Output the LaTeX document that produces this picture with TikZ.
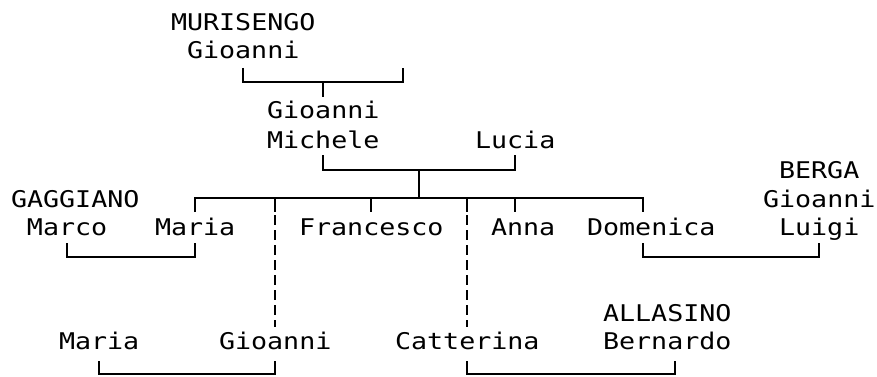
\documentclass[tikz,border=0pt]{standalone}
\usepackage{fontspec}
\setmonofont[FakeStretch=1.16]{DejaVu Sans Mono}
\usetikzlibrary{calc}
\tikzset{
  person/.style={inner sep=0pt, outer sep=0pt, anchor=base west,
    font=\ttfamily\fontsize{23}{28.8}\selectfont, text=black},
  famline/.style={line width=1.8pt, draw=black, line cap=butt, line join=miter},
  hiddenline/.style={famline, dash pattern=on 10pt off 5pt, dash phase=12pt},
}
\begin{document}
\begin{tikzpicture}[x=1pt, y=-1pt]
\useasboundingbox (0,0) rectangle (877,377);

% generation 1
\node[person] (mur)  at (171,31)  {MURISENGO};
\node[person] (gio1) at (187,59)  {Gioanni};
% generation 2
\node[person] (gio2) at (267,118) {Gioanni};
\node[person] (mic)  at (267,148) {Michele};
\node[person] (luc)  at (475,148) {Lucia};
% generation 3
\node[person] (gag)  at (11,207)  {GAGGIANO};
\node[person] (mar)  at (27,235)  {Marco};
\node[person] (mari) at (155,235) {Maria};
\node[person] (fra)  at (299,235) {Francesco};
\node[person] (ann)  at (491,235) {Anna};
\node[person] (dom)  at (587,235) {Domenica};
\node[person] (ber)  at (779,178) {BERGA};
\node[person] (gio3) at (763,207) {Gioanni};
\node[person] (lui)  at (779,235) {Luigi};
% generation 4
\node[person] (mar2) at (59,349)  {Maria};
\node[person] (gio4) at (219,349) {Gioanni};
\node[person] (cat)  at (395,349) {Catterina};
\node[person] (all)  at (603,321) {ALLASINO};
\node[person] (bern) at (603,349) {Bernardo};

\coordinate (murspouse) at (403,68);
\coordinate (domx) at ([xshift=-8pt]dom.center);
\coordinate (annx) at ([xshift=-8pt]ann.center);
\coordinate (bernx) at ([xshift=8pt]bern.center);
\coordinate (mid) at ($(mic.center)!0.5!(luc.center)$);

% MURISENGO Gioanni couple
\draw[famline] (gio1.center |- 0,68) -- (gio1.center |- 0,82) -- (murspouse |- 0,82) -- (murspouse);
\draw[famline] (gio2.center |- 0,82) -- (gio2.center |- 0,97);

% Gioanni Michele + Lucia
\draw[famline] (mic.center |- 0,155) -- (mic.center |- 0,170) -- (luc.center |- 0,170) -- (luc.center |- 0,155);
\draw[famline] (mid |- 0,170) -- (mid |- 0,198);

% children bar
\draw[famline] (mari.center |- 0,212) -- (mari.center |- 0,198) -- (domx |- 0,198) -- (domx |- 0,212);
\draw[famline] (fra.center |- 0,198) -- (fra.center |- 0,212);
\draw[famline] (annx |- 0,198) -- (annx |- 0,212);
\draw[famline] (gio4.center |- 0,198) -- (gio4.center |- 0,212);
\draw[famline] (cat.center |- 0,198) -- (cat.center |- 0,212);
\draw[hiddenline] (gio4.center |- 0,212) -- (gio4.center |- 0,327);
\draw[hiddenline] (cat.center |- 0,212) -- (cat.center |- 0,327);

% GAGGIANO Marco + Maria
\draw[famline] (mar.center |- 0,243) -- (mar.center |- 0,257) -- (mari.center |- 0,257) -- (mari.center |- 0,243);
% Domenica + BERGA Gioanni Luigi
\draw[famline] (domx |- 0,243) -- (domx |- 0,257) -- (lui.center |- 0,257) -- (lui.center |- 0,243);

% Maria + Gioanni
\draw[famline] (mar2.center |- 0,361) -- (mar2.center |- 0,374) -- (gio4.center |- 0,374) -- (gio4.center |- 0,361);
% Catterina + ALLASINO Bernardo
\draw[famline] (cat.center |- 0,361) -- (cat.center |- 0,374) -- (bernx |- 0,374) -- (bernx |- 0,361);
\end{tikzpicture}
\end{document}
